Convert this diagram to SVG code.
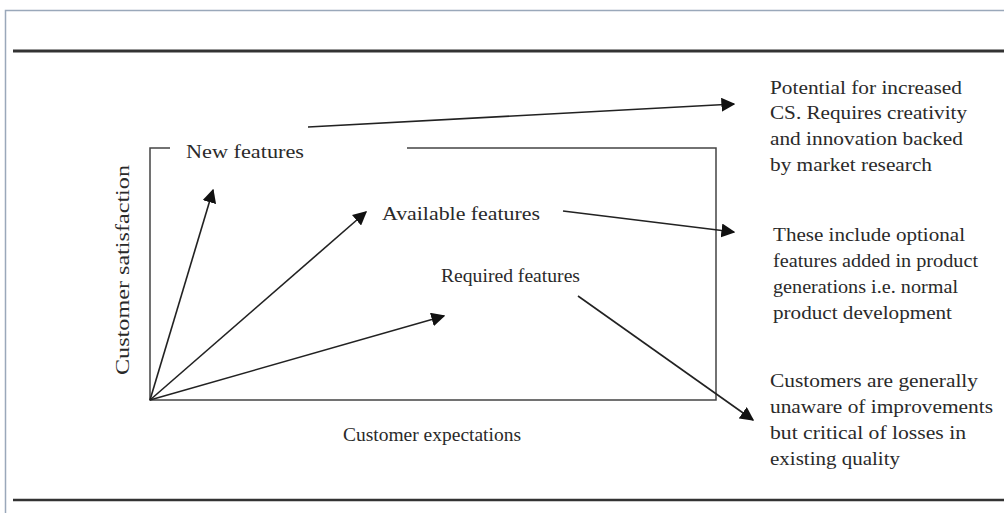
<svg xmlns="http://www.w3.org/2000/svg" width="1004" height="513" viewBox="0 0 1004 513">
<defs>
<marker id="ahb" viewBox="0 0 10 10" refX="9" refY="5" markerWidth="14" markerHeight="14" markerUnits="userSpaceOnUse" orient="auto">
<path d="M0,0 L10,5 L0,10 z" fill="#111"/>
</marker>
</defs>
<style>
text{font-family:"Liberation Serif","Times New Roman",serif;fill:#2a2a2a;font-size:19px}
.c{stroke:#222;stroke-width:1.6;fill:none}
.ax{stroke:#444;stroke-width:1.5;fill:none}
</style>
<rect x="0" y="0" width="1004" height="513" fill="#fff"/>
<rect x="5.5" y="10.5" width="1010" height="520" fill="none" stroke="#9aa8ba" stroke-width="1.5"/>
<line x1="13" y1="51" x2="1004" y2="51" stroke="#333" stroke-width="3"/>
<line x1="13" y1="500" x2="1004" y2="500" stroke="#333" stroke-width="2.5"/>
<g id="axes">
<path class="ax" d="M170,148 L150,148 L150,400 L716,400 L716,148 L407,148"/>
</g>
<g id="new-features"><text x="186" y="158" textLength="118" lengthAdjust="spacingAndGlyphs">New features</text></g>
<g id="available-features"><text x="382" y="220" textLength="158" lengthAdjust="spacingAndGlyphs">Available features</text></g>
<g id="required-features"><text x="441" y="282" textLength="139" lengthAdjust="spacingAndGlyphs">Required features</text></g>
<g id="x-label"><text x="343" y="441" textLength="178" lengthAdjust="spacingAndGlyphs">Customer expectations</text></g>
<g id="y-label"><text transform="translate(129,375) rotate(-90)" textLength="210" lengthAdjust="spacingAndGlyphs">Customer satisfaction</text></g>
<g id="note-new">
<text x="770" y="94" textLength="192" lengthAdjust="spacingAndGlyphs">Potential for increased</text>
<text x="770" y="119" textLength="197" lengthAdjust="spacingAndGlyphs">CS. Requires creativity</text>
<text x="770" y="145" textLength="193" lengthAdjust="spacingAndGlyphs">and innovation backed</text>
<text x="770" y="171" textLength="162" lengthAdjust="spacingAndGlyphs">by market research</text>
</g>
<g id="note-available">
<text x="773" y="241" textLength="192" lengthAdjust="spacingAndGlyphs">These include optional</text>
<text x="773" y="267" textLength="205" lengthAdjust="spacingAndGlyphs">features added in product</text>
<text x="773" y="293" textLength="185" lengthAdjust="spacingAndGlyphs">generations i.e. normal</text>
<text x="773" y="319" textLength="179" lengthAdjust="spacingAndGlyphs">product development</text>
</g>
<g id="note-required">
<text x="770" y="387" textLength="208" lengthAdjust="spacingAndGlyphs">Customers are generally</text>
<text x="770" y="413" textLength="223" lengthAdjust="spacingAndGlyphs">unaware of improvements</text>
<text x="770" y="439" textLength="196" lengthAdjust="spacingAndGlyphs">but critical of losses in</text>
<text x="770" y="465" textLength="130" lengthAdjust="spacingAndGlyphs">existing quality</text>
</g>
<g id="connectors">
<line class="c" x1="150" y1="400" x2="213" y2="190" marker-end="url(#ahb)"/>
<line class="c" x1="150" y1="400" x2="366" y2="212" marker-end="url(#ahb)"/>
<line class="c" x1="150" y1="400" x2="444" y2="316" marker-end="url(#ahb)"/>
<line class="c" x1="308" y1="127" x2="734" y2="104" marker-end="url(#ahb)"/>
<line class="c" x1="563" y1="211" x2="734" y2="232" marker-end="url(#ahb)"/>
<line class="c" x1="578" y1="296" x2="753" y2="420" marker-end="url(#ahb)"/>
</g>
</svg>
